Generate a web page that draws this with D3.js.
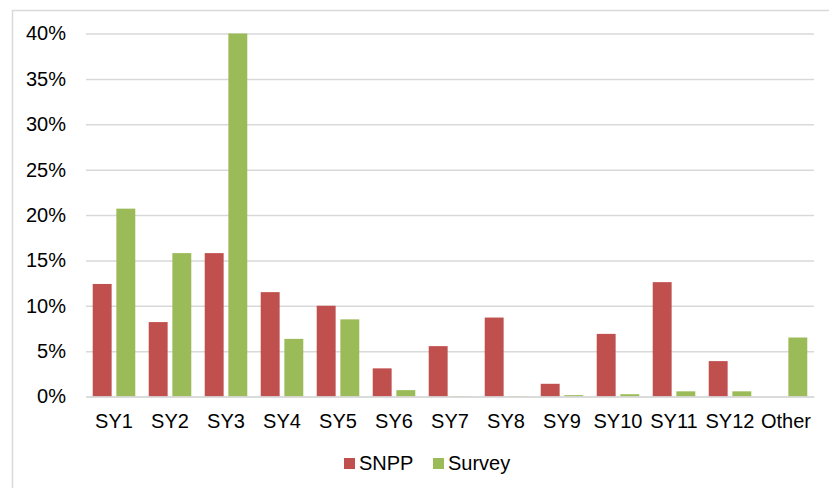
<!DOCTYPE html>
<html>
<head>
<meta charset="utf-8">
<script src="https://cdn.jsdelivr.net/npm/d3@7"></script>
<style>
  body { margin: 0; background: #fff; }
  text { font-family: "Liberation Sans", Arial, sans-serif; fill: #000; }
</style>
</head>
<body>
<div id="chart"></div>
<script>
const categories = ['SY1','SY2','SY3','SY4','SY5','SY6','SY7','SY8','SY9','SY10','SY11','SY12','Other']
const seriesNames = ['SNPP', 'Survey']
const snpp   = [12.4, 8.2, 15.8, 11.5, 10.0, 3.1, 5.55, 8.7, 1.4, 6.9, 12.6, 3.9, 0]
const survey = [20.7, 15.8, 40.0, 6.35, 8.5, 0.7, 0.05, 0.05, 0.15, 0.25, 0.57, 0.57, 6.5]
const yTicks = [0, 5, 10, 15, 20, 25, 30, 35, 40]

const colors = ['#C0504D', '#9BBB59']

const dims = ({
  width: 829,
  height: 488,
  margin: { top: 33.5, right: 15, bottom: 91.5, left: 86 }
})
const innerW = dims.width - dims.margin.left - dims.margin.right
const innerH = dims.height - dims.margin.top - dims.margin.bottom

const rows = categories.map((c, i) => ({ cat: c, SNPP: snpp[i], Survey: survey[i] }))

const svg = d3.select('#chart').append('svg')
  .attr('width', dims.width)
  .attr('height', dims.height)

// outer frame of the chart area
svg.append('path')
  .attr('d', 'M12.5,' + dims.height + ' V10.5 H' + dims.width)
  .attr('fill', 'none')
  .attr('stroke', '#d9d9d9')
  .attr('stroke-width', 1.5)

const g = svg.append('g')
  .attr('transform', 'translate(' + dims.margin.left + ',' + dims.margin.top + ')')

const y = d3.scaleLinear().domain([0, 40]).range([innerH, 0])

const x0 = d3.scaleBand()
  .domain(categories)
  .range([0, innerW])
  .paddingInner(0.24)
  .paddingOuter(0.12)

const x1 = d3.scaleBand()
  .domain(seriesNames)
  .range([0, x0.bandwidth()])
  .paddingInner(0.2)

const color = d3.scaleOrdinal().domain(seriesNames).range(colors)

// gridlines + y labels
const yAxis = g.append('g')
  .call(d3.axisLeft(y).tickValues(yTicks).tickSize(-innerW).tickFormat(d => d + '%'))
yAxis.select('.domain').remove()
yAxis.selectAll('.tick line').attr('stroke', '#d9d9d9').attr('stroke-width', 1.5)
yAxis.selectAll('.tick text')
  .attr('x', -20)
  .style('font-size', '20px')

// bars
g.append('g')
  .selectAll('g')
  .data(rows)
  .join('g')
    .attr('transform', d => 'translate(' + x0(d.cat) + ',0)')
  .selectAll('rect')
  .data(d => seriesNames.map(k => ({ key: k, value: d[k] })))
  .join('rect')
    .attr('x', d => x1(d.key))
    .attr('y', d => y(d.value))
    .attr('width', x1.bandwidth())
    .attr('height', d => y(0) - y(d.value))
    .attr('fill', d => color(d.key))

// x axis
const xAxis = g.append('g')
  .attr('transform', 'translate(0,' + innerH + ')')
  .call(d3.axisBottom(x0).tickSize(0).tickPadding(17))
xAxis.select('.domain').attr('stroke', '#d9d9d9').attr('stroke-width', 1.5)
xAxis.selectAll('.tick text').style('font-size', '20px')

// legend
const legendX = [344, 433]
const legend = svg.append('g')
legend.selectAll('rect')
  .data(seriesNames)
  .join('rect')
    .attr('x', (d, i) => legendX[i])
    .attr('y', 458)
    .attr('width', 11)
    .attr('height', 11)
    .attr('fill', d => color(d))
legend.selectAll('text')
  .data(seriesNames)
  .join('text')
    .attr('x', (d, i) => legendX[i] + 15)
    .attr('y', 470)
    .style('font-size', '20px')
    .text(d => d)
</script>
</body>
</html>
